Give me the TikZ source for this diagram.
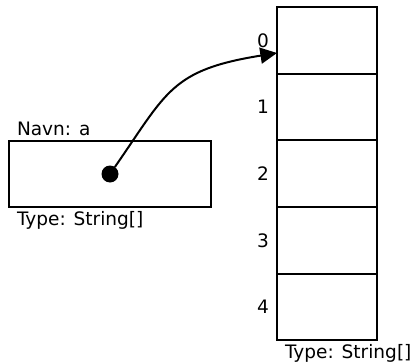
\documentclass[tikz,border=0pt]{standalone}
\usepackage{fontspec}
\setmainfont{DejaVu Sans}
\usetikzlibrary{arrows.meta,positioning}

\begin{document}
\begin{tikzpicture}[
  x=0.75pt, y=-0.75pt,
  every node/.style={font=\fontsize{13.9}{16}\selectfont, outer sep=0pt},
  cell/.style={draw, line width=1.5pt, minimum width=75pt, minimum height=50pt, inner sep=0pt},
  var/.style={draw, line width=1.5pt, minimum width=151.5pt, minimum height=49.5pt, inner sep=0pt},
  dot/.style={circle, fill=black, inner sep=0pt, minimum size=12.75pt},
  lbl/.style={inner sep=0pt, anchor=base west},
  idx/.style={inner sep=0pt},
  ref/.style={-{Triangle[length=12.5pt,width=12pt]}, line width=1.5pt},
]
\useasboundingbox (0,0) rectangle (414,364);

% variabel a
\node[var] (a) at (110,174) {};
\node[dot] (ptr) at (a.center) {};
\node[lbl] (navn) at (17,135) {Navn: a};
\node[lbl] (atype) at (17,225) {Type: String[]};

% array
\node[cell] (cell0) at (327,40.33) {};
\node[cell, below=0pt of cell0] (cell1) {};
\node[cell, below=0pt of cell1] (cell2) {};
\node[cell, below=0pt of cell2] (cell3) {};
\node[cell, below=0pt of cell3] (cell4) {};
\node[idx, left=6pt of cell0] (i0) {0};
\node[idx, left=6pt of cell1] (i1) {1};
\node[idx, left=6pt of cell2] (i2) {2};
\node[idx, left=6pt of cell3] (i3) {3};
\node[idx, left=6pt of cell4] (i4) {4};
\node[lbl] (arrtype) at (285,358) {Type: String[]};

\draw[ref] (ptr) .. controls (167,92) and (171,70) .. ([yshift=-9.5pt]cell0.west);
\end{tikzpicture}
\end{document}
